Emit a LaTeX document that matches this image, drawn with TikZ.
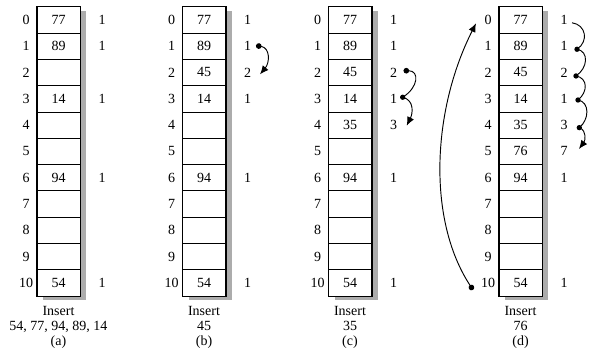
\documentclass[tikz,border=0pt]{standalone}
\usepackage{fontspec}
\setmainfont{Liberation Serif}
\usepackage{tikz}
\usetikzlibrary{arrows.meta, calc}

\tikzset{
  cell/.style={draw, line width=0.6pt, fill=white, minimum width=32.25pt,
    minimum height=19.73pt, inner sep=0pt},
  tableframe/.style={draw, line width=0.9pt},
  tableshadow/.style={fill=gray!65},
  idx/.style={inner sep=1pt},
  cnt/.style={inner sep=1pt},
  hop/.style={line width=0.7pt, {Circle[length=4.2pt]}-{Latex[length=6.5pt,width=5.5pt]}},
  probes/.style={line width=0.7pt, -{Latex[length=6.5pt,width=5.5pt]}},
  caption/.style={align=center, inner sep=0pt}
}

% one hash table: prefix, centre x, rows (index/key/probes)
\newcommand{\hashtab}[3]{%
  \fill[tableshadow] (#2-15.5,10.7) rectangle (#2+27.5,300);
  \foreach \row/\val/\num in {#3} {
    \node[cell] (#1\row) at (#2,{19.85+26.3*\row}) {\val};
    \node[idx] (#1i\row) at (#2-32.5,{19.85+26.3*\row}) {\row};
    \node[cnt] (#1c\row) at (#2+43.5,{19.85+26.3*\row}) {\num};
  }
  \draw[tableframe] (#10.north west) rectangle (#110.south east);
}

\begin{document}
\begin{tikzpicture}[x=0.75pt, y=-0.75pt, font=\fontsize{10.5}{11.25}\selectfont]
  \useasboundingbox (0,0) rectangle (589,351);
  % Tables
  \hashtab{a}{58.5}{0/77/1, 1/89/1, 2//, 3/14/1, 4//, 5//, 6/94/1, 7//, 8//, 9//, 10/54/1}
  \hashtab{b}{204}{0/77/1, 1/89/1, 2/45/2, 3/14/1, 4//, 5//, 6/94/1, 7//, 8//, 9//, 10/54/1}
  \hashtab{c}{350}{0/77/1, 1/89/1, 2/45/2, 3/14/1, 4/35/3, 5//, 6/94/1, 7//, 8//, 9//, 10/54/1}
  \hashtab{d}{520.5}{0/77/1, 1/89/1, 2/45/2, 3/14/1, 4/35/3, 5/76/7, 6/94/1, 7//, 8//, 9//, 10/54/1}
  % Captions
  \node[caption] (acap) at (58.5,327) {Insert\\54, 77, 94, 89, 14\\(a)};
  \node[caption] (bcap) at (204,327) {Insert\\45\\(b)};
  \node[caption] (ccap) at (350,327) {Insert\\35\\(c)};
  \node[caption] (dcap) at (520.5,327) {Insert\\76\\(d)};
  % Probe arrows (b)
  \coordinate (b1) at ($(bc1)+(8.5,-0.5)$);
  \coordinate (b2) at ($(bc2)+(12.5,1.9)$);
  \draw[hop] (b1) .. controls +(14,2) and +(10,-12) .. (b2);
  % Probe arrows (c)
  \coordinate (c2) at ($(cc2)+(10,-1.75)$);
  \coordinate (c3) at ($(cc3)+(9.2,-1.5)$);
  \coordinate (c4) at ($(cc4)+(13.2,0.6)$);
  \draw[hop] (c2) .. controls +(16,0) and +(16,-10) .. (c3)
    .. controls +(12,3) and +(6,-12) .. (c4);
  \fill (c3) circle[radius=2pt];
  % Probe arrows (d)
  \coordinate (d0) at ($(dc0)+(8,2.9)$);
  \coordinate (d1) at ($(dc1)+(13,3.1)$);
  \coordinate (d2) at ($(dc2)+(12,3.5)$);
  \coordinate (d3) at ($(dc3)+(14,1.25)$);
  \coordinate (d4) at ($(dc4)+(15.3,2.6)$);
  \coordinate (d5) at ($(dc5)+(15,-2.4)$);
  \draw[probes] (d0) .. controls +(14,2) and +(12,-8) .. (d1)
    .. controls +(12,2) and +(12,-8) .. (d2)
    .. controls +(12,2) and +(10,-8) .. (d3)
    .. controls +(12,2) and +(10,-8) .. (d4)
    .. controls +(8,3) and +(6,-8) .. (d5);
  \foreach \k in {1,...,4} \fill (d\k) circle[radius=2pt];
  % Wrap-around
  \coordinate (dlow) at ($(di10)+(-15,7)$);
  \coordinate (dtop) at ($(di0)+(-12,3.5)$);
  \draw[hop] (dlow) .. controls +(-46,-70) and +(-44,86.7) .. (dtop);
\end{tikzpicture}
\end{document}
